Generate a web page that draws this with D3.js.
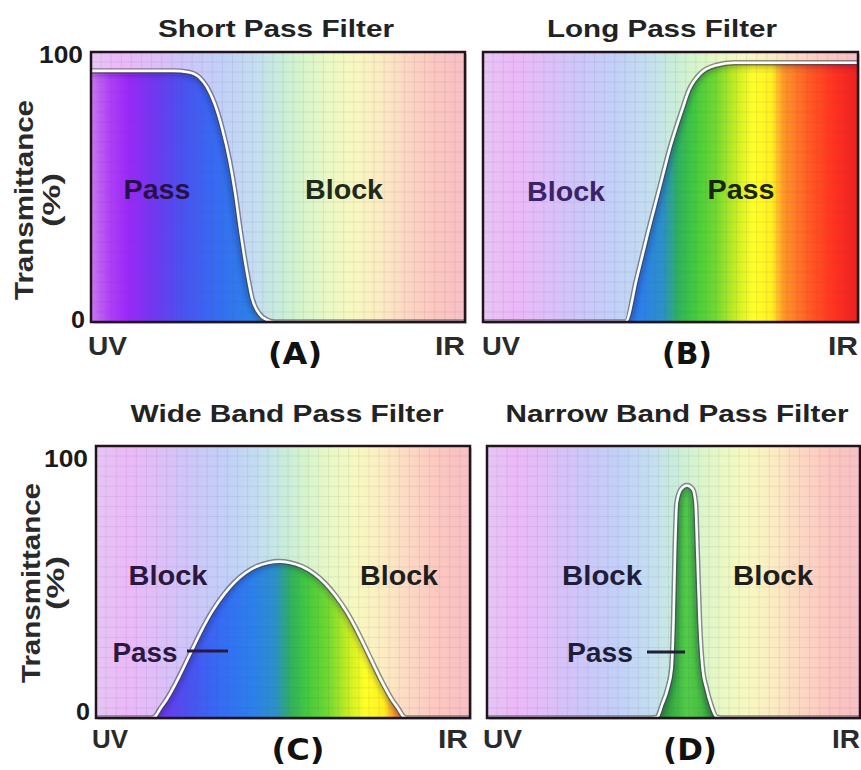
<!DOCTYPE html>
<html><head><meta charset="utf-8">
<script src="https://cdn.jsdelivr.net/npm/d3@7"></script>
<style>body{margin:0;background:#fff}svg{display:block}</style>
</head><body>
<svg id="chart" width="861" height="770"></svg>
<script>
// ---- DATA: wavelength position (0 = UV edge, 100 = IR edge) vs transmittance (%) ----
const shortPassX = [0, 22, 26, 29, 31, 33, 35, 37, 38.5, 40, 41, 42, 43, 45, 47, 49, 100];
const shortPassT = [93, 93, 92.5, 90.5, 87, 81, 72, 60, 48, 33, 24, 16, 9, 3, 0.8, 0, 0];

const longPassX = [0, 38, 41, 44, 47, 50, 53, 55, 58, 62, 67, 100];
const longPassT = [0, 0, 16, 33, 49, 65, 78, 86, 92, 95, 96, 96];

const wideBandX = [0, 15, 16, 17, 19, 22, 25, 28, 31, 34, 37, 40, 43, 46, 49, 52, 55, 58, 61, 64, 67, 70, 73, 76, 79, 81, 82, 83, 100];
const wideBandT = [0, 0, 0.8, 3, 7, 14.5, 23, 31.5, 39, 45, 49.8, 53.3, 55.7, 57, 57.5, 57, 55.7, 53.3, 49.8, 45, 39, 31.5, 23, 14.5, 7, 3, 0.8, 0, 0];

const narrowBandX = [0, 44, 45.6, 47, 48.5, 49.5, 50, 50.4, 50.9, 52, 53.6, 55.2, 55.9, 56.4, 57, 57.8, 58.8, 60, 61.6, 63, 100];
const narrowBandT = [0, 0, 0.3, 5, 11, 18, 35, 60, 79, 84, 85.5, 84, 79, 60, 35, 18, 11, 5, 0.3, 0, 0];

const panelTitles = ["Short Pass Filter", "Long Pass Filter", "Wide Band Pass Filter", "Narrow Band Pass Filter"];
const panelLetters = ["(A)", "(B)", "(C)", "(D)"];
const yTickLabels = ["100", "0"];
const xEndLabels = ["UV", "IR"];
const yAxisTitle = ["Transmittance", "(%)"];

// ---- styles ----
const bgStops = [
  [0, "#e6c6f4"], [0.08, "#ecb8f8"], [0.16, "#e0bef8"], [0.25, "#cec6f8"], [0.35, "#c2d0f8"],
  [0.44, "#c4def0"], [0.5, "#c8ecdc"], [0.56, "#d6f4cc"], [0.63, "#eaf8c4"], [0.7, "#f8f8c0"],
  [0.77, "#fcecc2"], [0.84, "#fcd8c4"], [0.92, "#fcc6c0"], [1, "#f8c0c4"]
];
const specStops = [
  [0, "#c878f0"], [0.05, "#b040f8"], [0.1, "#9a28f8"], [0.17, "#7038f0"], [0.24, "#4c50f0"],
  [0.32, "#3868f4"], [0.42, "#2c80ec"], [0.48, "#2c90c8"], [0.52, "#30b060"], [0.56, "#40c840"],
  [0.62, "#70d830"], [0.68, "#d0f020"], [0.72, "#ffff28"], [0.77, "#fff020"], [0.8, "#ff9828"],
  [0.87, "#ff5a24"], [0.94, "#ff3020"], [1, "#ee2020"]
];
const greenStops = [
  [0.45, "#2a8a38"], [0.5, "#38b040"], [0.535, "#52cc48"], [0.57, "#48c040"], [0.62, "#2a8a38"]
];

const FONT = "'Liberation Sans', Arial, Helvetica, sans-serif";
const HEAVY = "'DejaVu Sans', 'Liberation Sans', sans-serif";

const panels = [
  { xs: shortPassX, ts: shortPassT, left: 91, right: 465, top: 52, bottom: 322, fill: "spec",
    title: { cx: 276, y: 37, len: 236 }, yAxis: { x: 24, px: 52, cy: 200, tOff100: 11, tOff0: 6 },
    uv: { x: 88, y: 355, len: 39 }, ir: { x: 465, y: 355, len: 30 }, letter: { cx: 295, y: 364, len: 54 },
    labels: [
      { t: "Pass", cx: 157, y: 199, len: 67, c: "#2a1048" },
      { t: "Block", cx: 344, y: 199, len: 78, c: "#1e2a1e" }
    ] },
  { xs: longPassX, ts: longPassT, left: 483, right: 858, top: 52, bottom: 322, fill: "spec",
    title: { cx: 662, y: 37, len: 230 }, yAxis: null,
    uv: { x: 482, y: 355, len: 38 }, ir: { x: 858, y: 355, len: 30 }, letter: { cx: 687, y: 364, len: 50 },
    labels: [
      { t: "Block", cx: 566, y: 201, len: 78, c: "#3a2368" },
      { t: "Pass", cx: 741, y: 199, len: 67, c: "#1a2410" }
    ] },
  { xs: wideBandX, ts: wideBandT, left: 96, right: 470, top: 446, bottom: 718, fill: "spec",
    title: { cx: 287, y: 422, len: 313 }, yAxis: { x: 31, px: 56, cy: 583, tOff100: 21, tOff0: 2 },
    uv: { x: 92, y: 748, len: 36 }, ir: { x: 468, y: 748, len: 30 }, letter: { cx: 298, y: 760, len: 53 },
    labels: [
      { t: "Block", cx: 168, y: 585, len: 79, c: "#2a1840" },
      { t: "Block", cx: 399, y: 585, len: 78, c: "#1e1e1e" },
      { t: "Pass", cx: 145, y: 662, len: 65, c: "#2a1840", line: [187, 228, 651] }
    ] },
  { xs: narrowBandX, ts: narrowBandT, left: 487, right: 860, top: 446, bottom: 718, fill: "green",
    title: { cx: 677, y: 422, len: 343 }, yAxis: null,
    uv: { x: 483, y: 748, len: 39 }, ir: { x: 860, y: 748, len: 28 }, letter: { cx: 690, y: 760, len: 54 },
    labels: [
      { t: "Block", cx: 602, y: 585, len: 80, c: "#1e1e3a" },
      { t: "Block", cx: 773, y: 585, len: 80, c: "#1e1e1e" },
      { t: "Pass", cx: 600, y: 662, len: 66, c: "#1e1e3a", line: [647, 685, 652] }
    ] }
];

const svg = d3.select("#chart");
const defs = svg.append("defs");

function addGradient(id, stops, x1, x2) {
  const g = defs.append("linearGradient").attr("id", id)
    .attr("gradientUnits", "userSpaceOnUse")
    .attr("x1", x1).attr("x2", x2).attr("y1", 0).attr("y2", 0);
  g.selectAll("stop").data(stops).join("stop")
    .attr("offset", d => d[0]).attr("stop-color", d => d[1]);
}

function text(g, s, x, y, size, len, anchor, color, family, weight, rotate) {
  const t = g.append("text").text(s)
    .attr("x", x).attr("y", y)
    .attr("font-size", size).attr("font-family", family || FONT)
    .attr("font-weight", weight || "bold")
    .attr("fill", color || "#1a1a1a")
    .attr("text-anchor", anchor || "middle");
  if (len) t.attr("textLength", len).attr("lengthAdjust", "spacingAndGlyphs");
  if (rotate) t.attr("transform", `rotate(-90,${x},${y})`);
  return t;
}

const shade = defs.append("filter").attr("id", "soft").attr("x", "-5%").attr("y", "-5%").attr("width", "110%").attr("height", "110%");
shade.append("feGaussianBlur").attr("stdDeviation", 3);

panels.forEach((p, i) => {
  const x = d3.scaleLinear().domain([0, 100]).range([p.left, p.right]);
  const y = d3.scaleLinear().domain([0, 100]).range([p.bottom, p.top]);
  const g = svg.append("g");
  const bgId = "bg" + i, spId = "sp" + i, clipId = "clip" + i, fclipId = "fclip" + i;
  addGradient(bgId, bgStops, p.left, p.right);
  addGradient(spId, p.fill === "green" ? greenStops : specStops, p.left, p.right);
  defs.append("clipPath").attr("id", clipId).append("rect")
    .attr("x", p.left).attr("y", p.top).attr("width", p.right - p.left).attr("height", p.bottom - p.top);

  g.append("rect").attr("x", p.left + 2).attr("y", p.top + 2)
    .attr("width", p.right - p.left).attr("height", p.bottom - p.top)
    .attr("fill", "#888").attr("opacity", 0.35);
  g.append("rect").attr("x", p.left).attr("y", p.top)
    .attr("width", p.right - p.left).attr("height", p.bottom - p.top)
    .attr("fill", `url(#${bgId})`);

  const pts = p.xs.map((v, k) => [v, p.ts[k]]);
  const inner = g.append("g").attr("clip-path", `url(#${clipId})`);

  const area = d3.area().x(d => x(d[0])).y0(y(0)).y1(d => y(d[1])).curve(d3.curveMonotoneX);
  const line = d3.line().x(d => x(d[0])).y(d => y(d[1])).curve(d3.curveMonotoneX);
  inner.append("path").datum(pts).attr("d", area).attr("fill", `url(#${spId})`);

  defs.append("clipPath").attr("id", fclipId).append("path").datum(pts).attr("d", area);
  inner.append("g").attr("clip-path", `url(#${fclipId})`)
    .append("path").datum(pts).attr("d", line).attr("fill", "none")
    .attr("stroke", "#1a1050").attr("stroke-opacity", 0.35).attr("stroke-width", 8)
    .attr("filter", "url(#soft)");

  const step = 100 / 37, stepY = 100 / 27;
  inner.selectAll("line.gx").data(d3.range(step, 100, step)).join("line")
    .attr("x1", d => x(d)).attr("x2", d => x(d)).attr("y1", p.top).attr("y2", p.bottom)
    .attr("stroke", "#5a5a78").attr("stroke-opacity", 0.1).attr("stroke-width", 1);
  inner.selectAll("line.gy").data(d3.range(stepY, 100, stepY)).join("line")
    .attr("y1", d => y(d)).attr("y2", d => y(d)).attr("x1", p.left).attr("x2", p.right)
    .attr("stroke", "#5a5a78").attr("stroke-opacity", 0.1).attr("stroke-width", 1);

  const curvePts = pts.filter((d, k) => !(d[1] === 0 && k > 0 && k < pts.length - 1 && pts[k - 1][1] === 0 && pts[k + 1] && pts[k + 1][1] === 0));
  inner.append("path").datum(curvePts).attr("d", line).attr("fill", "none")
    .attr("stroke", "#3a3a4a").attr("stroke-opacity", 0.55).attr("stroke-width", 5.5).attr("stroke-linejoin", "round");
  inner.append("path").datum(curvePts).attr("d", line).attr("fill", "none")
    .attr("stroke", "#ffffff").attr("stroke-width", 2.6).attr("stroke-linejoin", "round");

  g.append("rect").attr("x", p.left).attr("y", p.top)
    .attr("width", p.right - p.left).attr("height", p.bottom - p.top)
    .attr("fill", "none").attr("stroke", "#22141e").attr("stroke-width", 2.5);

  text(g, panelTitles[i], p.title.cx, p.title.y, 24, p.title.len, "middle", "#222");

  if (p.yAxis) {
    text(g, yTickLabels[0], p.left - 8, y(100) + p.yAxis.tOff100, 24, 44, "end", "#1a1a1a");
    text(g, yTickLabels[1], p.left - 6, y(0) + p.yAxis.tOff0, 24, 14, "end", "#1a1a1a");
    text(g, yAxisTitle[0], p.yAxis.x + 9, p.yAxis.cy, 26, 200, "middle", "#2a2a2a", FONT, "bold", true);
    text(g, yAxisTitle[1], p.yAxis.px + 8, p.yAxis.cy, 24, 54, "middle", "#2a2a2a", FONT, "bold", true);
  }

  text(g, xEndLabels[0], p.uv.x, p.uv.y, 26, p.uv.len, "start", "#2a2a2a");
  text(g, xEndLabels[1], p.ir.x, p.ir.y, 26, p.ir.len, "end", "#2a2a2a");
  text(g, panelLetters[i], p.letter.cx, p.letter.y, 30, p.letter.len, "middle", "#111", HEAVY, "900");

  p.labels.forEach(l => {
    text(g, l.t, l.cx, l.y, 27, l.len, "middle", l.c);
    if (l.line) {
      g.append("line").attr("x1", l.line[0]).attr("x2", l.line[1])
        .attr("y1", l.line[2]).attr("y2", l.line[2])
        .attr("stroke", l.c).attr("stroke-width", 3);
    }
  });
});
</script>
</body></html>
